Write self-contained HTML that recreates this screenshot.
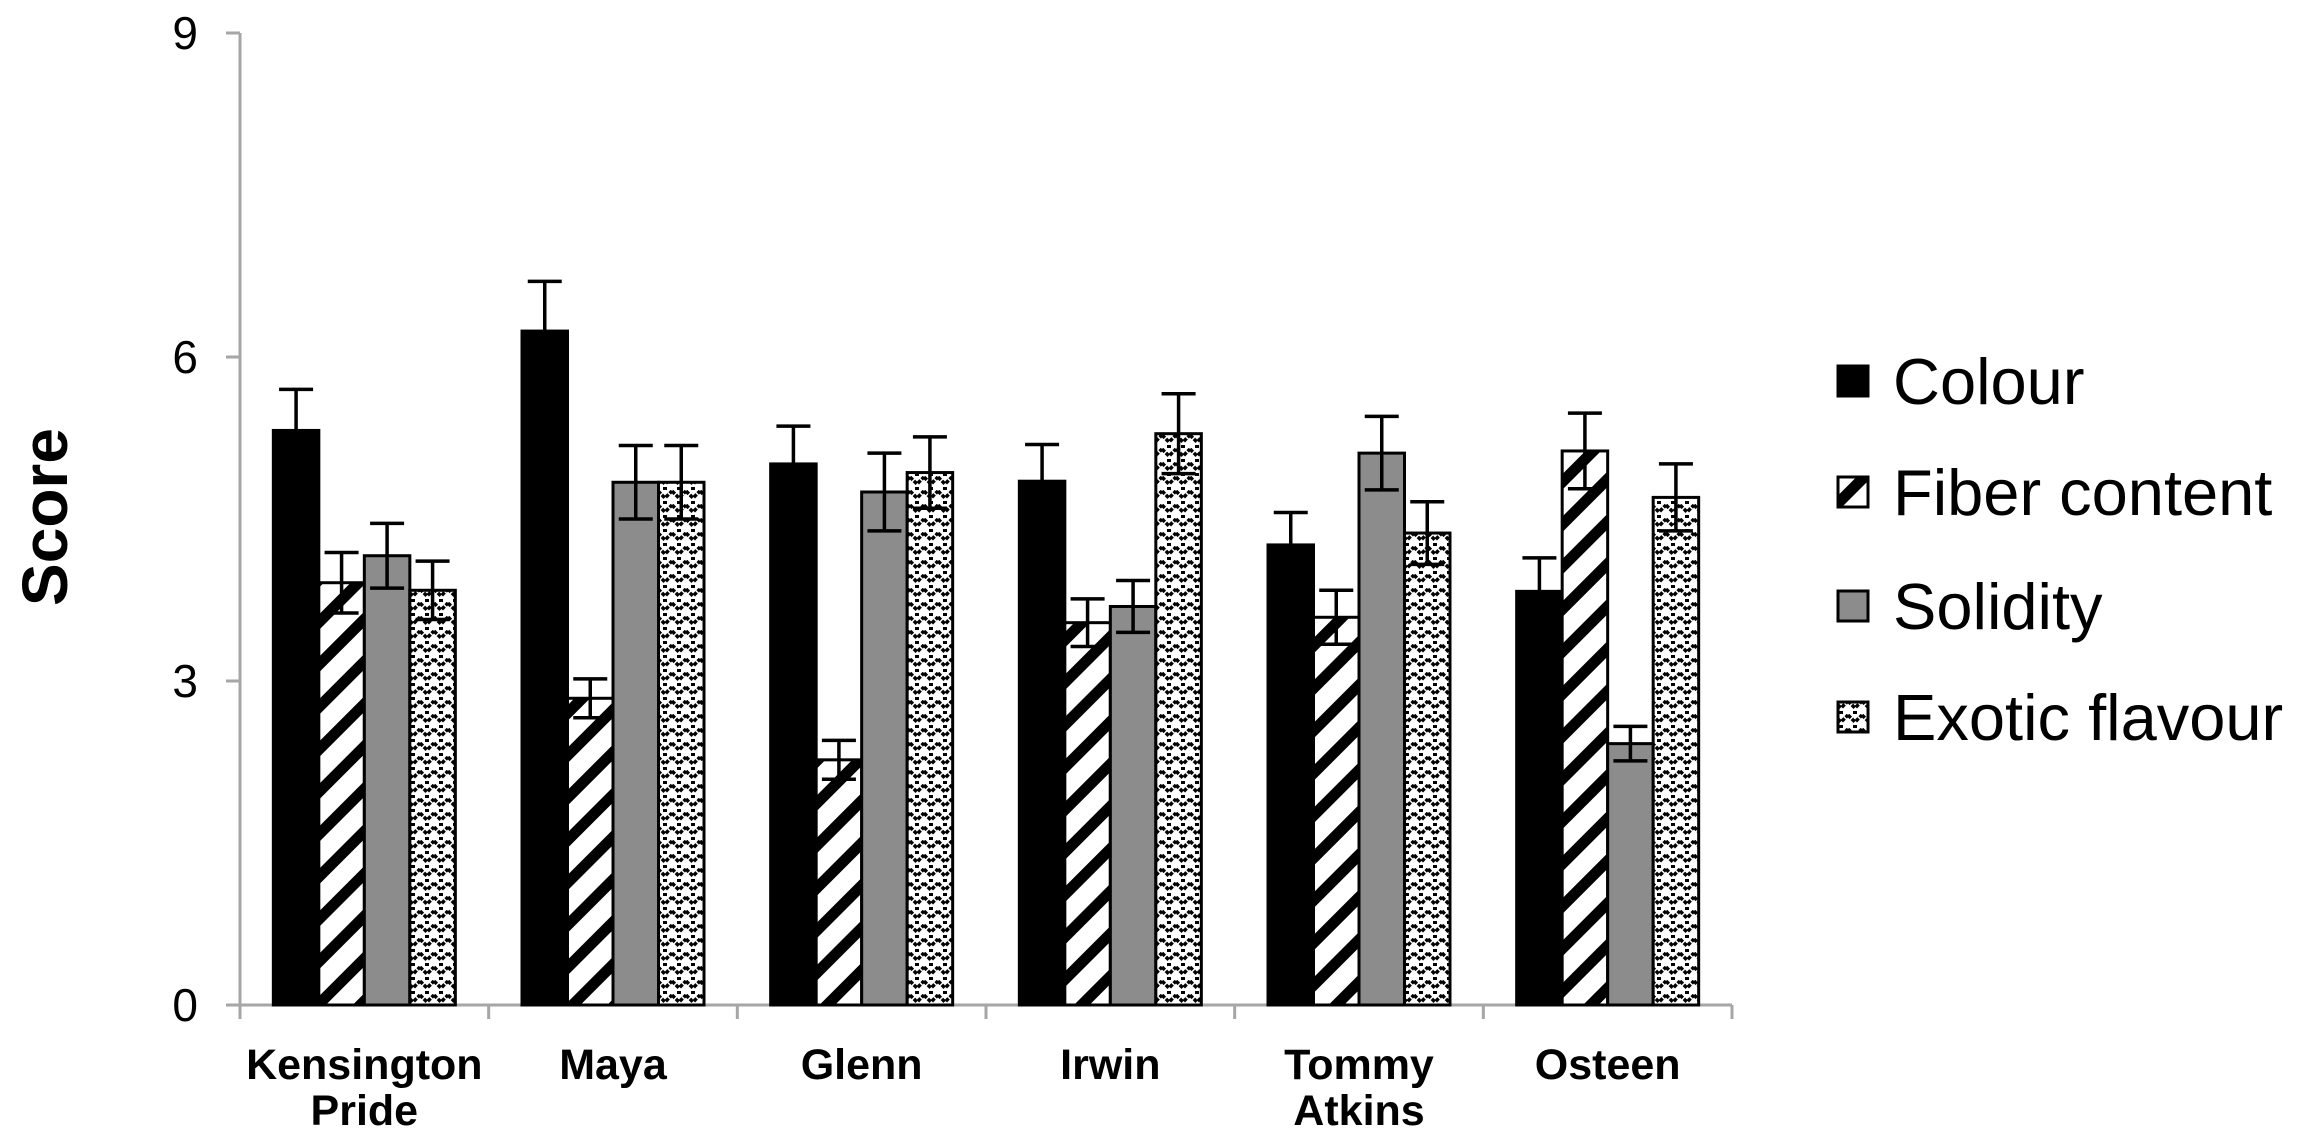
<!DOCTYPE html>
<html><head><meta charset="utf-8"><style>
html,body{margin:0;padding:0;background:#fff;}
svg{display:block;font-family:"Liberation Sans",Arial,sans-serif;}
</style></head><body>
<svg id="chart" width="2318" height="1145" viewBox="0 0 2318 1145" xmlns="http://www.w3.org/2000/svg">
<defs>
<pattern id="hatch" patternUnits="userSpaceOnUse" width="30" height="30" patternTransform="rotate(-45)">
<rect width="30" height="30" fill="#fff"/><rect width="30" height="11" fill="#000"/>
</pattern>
<pattern id="zig" patternUnits="userSpaceOnUse" width="14" height="14">
<rect width="14" height="14" fill="#fff"/>
<path d="M0 1 L7 8 L14 1" stroke="#000" stroke-width="3.5" fill="none" stroke-dasharray="4 1.5"/>
<rect x="5" y="11" width="4" height="3" fill="#000"/>
</pattern>
</defs>
<g id="axes"></g>
<g id="bars"></g>
<g id="legend"></g>
</svg>
<script>
const categories = [["Kensington","Pride"],["Maya"],["Glenn"],["Irwin"],["Tommy","Atkins"],["Osteen"]];
const seriesNames = ["Colour","Fiber content","Solidity","Exotic flavour"];
const colourVals = [5.32,6.24,5.01,4.85,4.26,3.83];
const colourErr  = [0.38,0.46,0.35,0.34,0.30,0.31];
const fiberVals  = [3.91,2.84,2.27,3.54,3.59,5.13];
const fiberErr   = [0.28,0.18,0.18,0.22,0.25,0.35];
const solidVals  = [4.16,4.84,4.75,3.69,5.11,2.42];
const solidErr   = [0.30,0.34,0.36,0.24,0.34,0.16];
const exoticVals = [3.84,4.84,4.93,5.29,4.37,4.70];
const exoticErr  = [0.27,0.34,0.33,0.37,0.29,0.31];
const yTicks = [0,3,6,9];

const NS="http://www.w3.org/2000/svg";
function mk(tag,attrs,parent,text){const e=document.createElementNS(NS,tag);for(const k in attrs)e.setAttribute(k,attrs[k]);if(text!==undefined)e.textContent=text;parent.appendChild(e);return e;}
const X0=240,X1=1732,Y0=1005,YT=33,YMAX=9;
const catW=(X1-X0)/categories.length;
const barW=45.5;
function y(v){return Y0-(v/YMAX)*(Y0-YT);}
function xBar(ci,si){return X0+catW*ci+catW/2-2*barW+si*barW;}
const axes=document.getElementById('axes');
const bars=document.getElementById('bars');
const legend=document.getElementById('legend');
const fills=["#000","url(#hatch)","#8c8c8c","url(#zig)"];
const vals=[colourVals,fiberVals,solidVals,exoticVals];
const errs=[colourErr,fiberErr,solidErr,exoticErr];

let l=mk('line',{x1:X0,y1:YT,x2:X0,y2:Y0,stroke:'#a6a6a6','stroke-width':3},axes);


l=mk('line',{x1:X0-14,y1:Y0,x2:X1,y2:Y0,stroke:'#a6a6a6','stroke-width':3},axes);


yTicks.forEach(t=>{
  const tk=mk('line',{x1:X0-14,y1:y(t),x2:X0,y2:y(t),stroke:'#a6a6a6','stroke-width':3},axes);
  
  
  const tl=mk('text',{x:X0-42,y:y(t)+16,'text-anchor':'end','font-size':46,fill:'#000'},axes,String(t));
  
  
});
for(let i=0;i<=categories.length;i++){
  const xx=X0+catW*i;
  const tk=mk('line',{x1:xx,y1:Y0,x2:xx,y2:Y0+14,stroke:'#a6a6a6','stroke-width':3},axes);
  
  
}
categories.forEach((c,ci)=>{
  const t=mk('text',{x:X0+catW*ci+catW/2,y:1079,'text-anchor':'middle','font-size':43,'font-weight':'bold'},axes);
  
  
  c.forEach((line,li)=>mk('tspan',{x:X0+catW*ci+catW/2,dy:li?46:0},t,line));
});
const yt=mk('text',{x:0,y:0,transform:'translate(67,517) rotate(-90)','text-anchor':'middle','font-size':64,'font-weight':'bold'},axes,'Score');



vals.forEach((arr,si)=>{
  arr.forEach((v,ci)=>{
    const bx=xBar(ci,si);
    const r=mk('rect',{x:bx,y:y(v),width:barW,height:Y0-y(v),fill:fills[si],stroke:'#000','stroke-width':3},bars);
    
    
    const e=errs[si][ci],cx=bx+barW/2;
    const g=mk('path',{d:`M${cx} ${y(v-e)}V${y(v+e)}M${cx-17} ${y(v+e)}H${cx+17}M${cx-17} ${y(v-e)}H${cx+17}`,stroke:'#000','stroke-width':3.5,fill:'none'},bars);
    
    
  });
});
const ly=[381,492,606,717];
seriesNames.forEach((n,si)=>{
  const g=mk('g',{},legend);
  
  
  mk('rect',{x:1838,y:ly[si]-15,width:30,height:30,fill:fills[si],stroke:'#000','stroke-width':3},g);
  mk('text',{x:1893,y:ly[si]+23,'font-size':65},g,n);
});
</script>
</body></html>
